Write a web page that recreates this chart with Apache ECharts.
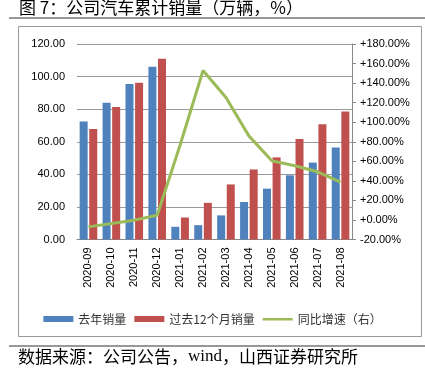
<!DOCTYPE html>
<html>
<head>
<meta charset="utf-8">
<script src="https://cdn.jsdelivr.net/npm/echarts@6/dist/echarts.min.js"></script>
<style>
  html, body { margin: 0; padding: 0; background: #fff; }
  #chart { width: 425px; height: 369px; }
</style>
</head>
<body>
<div id="chart"></div>
<script>
const months = ['2020-09', '2020-10', '2020-11', '2020-12', '2021-01', '2021-02',
  '2021-03', '2021-04', '2021-05', '2021-06', '2021-07', '2021-08'];
const lastYear = [72.4, 83.9, 95.4, 106.0, 7.8, 8.8, 14.8, 23.0, 31.2, 39.4, 47.2, 56.4];
const past12 = [67.9, 81.4, 96.2, 111.0, 13.5, 22.5, 33.8, 43.0, 50.4, 61.7, 70.8, 78.6];
const yoy = [-7.1, -3.6, -0.2, 4.9, 76.7, 152.9, 125.2, 86.0, 60.6, 55.5, 49.3, 38.8];

const myChart = echarts.init(document.getElementById('chart'));
const font = '"Liberation Sans", Arial, "Noto Sans CJK SC", sans-serif';
const cjk = '"Noto Sans CJK SC", sans-serif';

let option = {
  backgroundColor: '#fff',
  animation: false,
  textStyle: { fontFamily: font },
  graphic: [
    { type: 'text', left: 19, top: -1, style: { text: '图 7：公司汽车累计销量（万辆，%）', font: '17px ' + cjk, fill: '#000' } },
    { type: 'line', shape: { x1: 9, y1: 18, x2: 425, y2: 18 }, style: { stroke: '#333', lineWidth: 1.2 } },
    { type: 'rect', shape: { x: 18.5, y: 26.5, width: 403, height: 310 }, style: { fill: 'none', stroke: '#999', lineWidth: 1 } },
    { type: 'line', shape: { x1: 9, y1: 346, x2: 425, y2: 346 }, style: { stroke: '#333', lineWidth: 1.2 } },
    {
      type: 'text', left: 18, top: 348,
      style: {
        text: '{a|数据来源：公司公告，}{b|wind}{a|，山西证券研究所}',
        rich: {
          a: { fontFamily: cjk, fontSize: 17, fill: '#000' },
          b: { fontFamily: '"Liberation Serif", serif', fontSize: 17, fill: '#000' }
        }
      }
    }
  ],
  legend: {
    top: 308,
    left: 'center',
    itemWidth: 30,
    itemHeight: 6,
    itemGap: 8,
    textStyle: { fontFamily: cjk, fontSize: 12, color: '#333' },
    data: [
      { name: '去年销量', icon: 'rect' },
      { name: '过去12个月销量', icon: 'rect' },
      { name: '同比增速（右）', icon: 'path://M0,0 M0,2 L30,2 L30,4.5 L0,4.5 Z M30,6' }
    ]
  },
  grid: { left: 77, right: 73, top: 44, bottom: 129.5 },
  xAxis: {
    type: 'category',
    data: months,
    axisLine: { lineStyle: { color: '#888' } },
    axisTick: { show: false },
    axisLabel: { rotate: 90, margin: 8, fontSize: 11, color: '#000' }
  },
  yAxis: [
    {
      type: 'value', min: 0, max: 120, interval: 20,
      axisLine: { show: false }, axisTick: { show: false },
      splitLine: { lineStyle: { color: '#999', width: 1 } },
      axisLabel: { fontSize: 11, color: '#000', margin: 12, formatter: v => v.toFixed(2) }
    },
    {
      type: 'value', min: -20, max: 180, interval: 20,
      axisLine: { show: true, lineStyle: { color: '#888' } },
      axisTick: { show: true, length: 4, lineStyle: { color: '#888' } },
      splitLine: { show: false },
      axisLabel: { fontSize: 11, color: '#000', margin: 8, formatter: v => (v >= 0 ? '+' : '') + v.toFixed(2) + '%' }
    }
  ],
  series: [
    { name: '去年销量', type: 'bar', data: lastYear, barWidth: 8, barGap: '20%', itemStyle: { color: '#4F81BD' } },
    { name: '过去12个月销量', type: 'bar', data: past12, barWidth: 8, itemStyle: { color: '#C0504D' } },
    { name: '同比增速（右）', type: 'line', yAxisIndex: 1, data: yoy, symbol: 'none', lineStyle: { color: '#9BBB59', width: 3 }, itemStyle: { color: '#9BBB59' } }
  ]
};
myChart.setOption(option);
</script>
</body>
</html>
